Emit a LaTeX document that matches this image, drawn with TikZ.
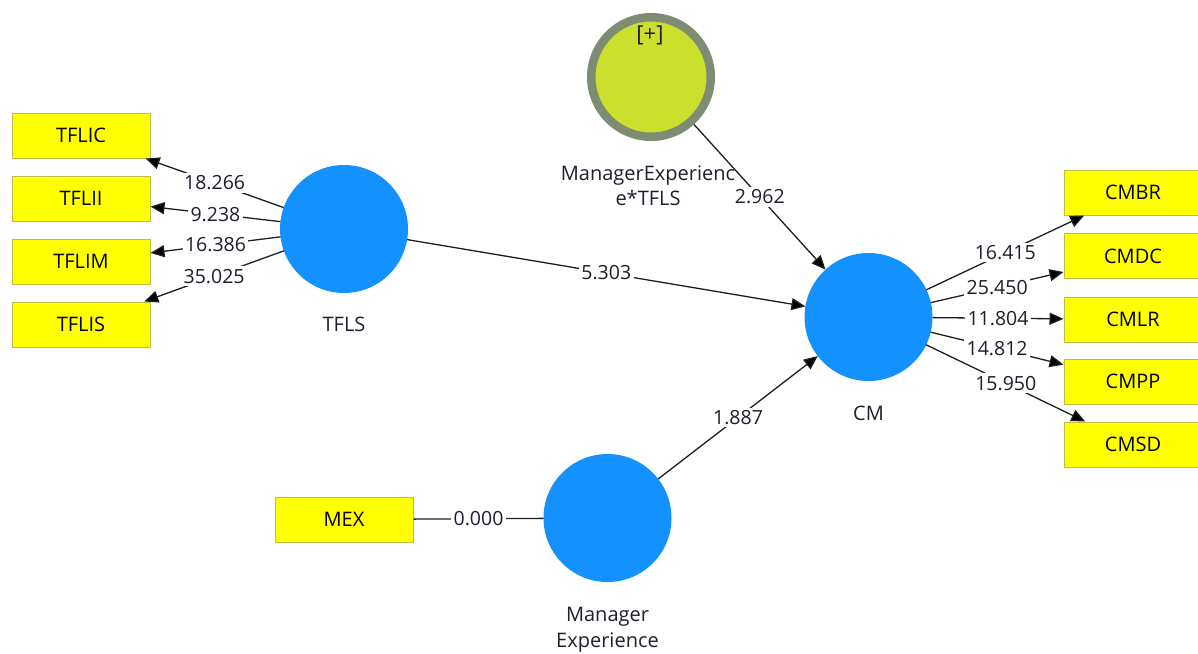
\documentclass[tikz,border=0pt]{standalone}
\usepackage{fontspec}
\setmainfont{Open Sans}
\usetikzlibrary{arrows.meta}
\definecolor{lvblue}{RGB}{19,145,255}
\definecolor{boxyellow}{RGB}{255,255,0}
\definecolor{boxborder}{RGB}{190,190,70}
\definecolor{modfill}{RGB}{202,224,44}
\definecolor{modring}{RGB}{127,140,116}
\definecolor{linegray}{RGB}{30,30,30}
\definecolor{textc}{RGB}{30,30,45}
\begin{document}
\begin{tikzpicture}[x=1pt,y=-1pt,
  ind/.style={draw=boxborder, line width=1pt, fill=boxyellow, minimum width=138pt, minimum height=45pt, inner sep=0pt, font=\fontsize{20}{24}\selectfont, text=black},
  lv/.style={circle, fill=lvblue, minimum size=128pt, inner sep=0pt, outer sep=0pt},
  modlv/.style={circle, fill=modfill, draw=modring, line width=8.5pt, minimum size=119.5pt, inner sep=0pt, outer sep=4.25pt},
  conn/.style={draw=linegray, line width=1.3pt},
  arr/.style={conn, -{Triangle[length=14pt,width=12pt,fill=black]}},
  val/.style={fill=white, inner sep=2.5pt, font=\fontsize{19.5}{22}\selectfont, text=textc},
  lbl/.style={font=\fontsize{20}{25.5}\selectfont, text=textc, align=center, inner sep=0pt},
  plusmark/.style={font=\fontsize{22}{24}\selectfont, text=textc, inner sep=0pt}
]
\useasboundingbox (0,0) rectangle (1198,653);

% indicators left
\node[ind] (TFLIC) at (81,135.5) {TFLIC};
\node[ind] (TFLII) at (81,198.5) {TFLII};
\node[ind] (TFLIM) at (81,261.5) {TFLIM};
\node[ind] (TFLIS) at (81,324.5) {TFLIS};

% indicators right
\node[ind] (CMBR) at (1133,192.5) {CMBR};
\node[ind] (CMDC) at (1133,256) {CMDC};
\node[ind] (CMLR) at (1133,319.5) {CMLR};
\node[ind] (CMPP) at (1133,381.5) {CMPP};
\node[ind] (CMSD) at (1133,444.5) {CMSD};

\node[ind] (MEX) at (344,519.5) {MEX};

% latent variables
\node[lv] (TFLS) at (344,229) {};
\node[lv] (CM) at (868.5,317) {};
\node[lv] (ME) at (607.5,518) {};
\node[modlv] (MOD) at (651,77) {};

\node[plusmark] (plus) at (650,35) {[+]};

% labels of latent variables
\node[lbl] (TFLSlab) at (344,324) {TFLS};
\node[lbl] (CMlab) at (868.5,413) {CM};
\node[lbl] (MElab) at (607.5,630) {Manager\\Experience};
\node[lbl] (MODlab) at (648,186) {ManagerExperienc\\e*TFLS};

% outer loadings TFLS
\draw[arr] (TFLS) -- node[val]{18.266} (TFLIC);
\draw[arr] (TFLS) -- node[val]{9.238} (TFLII);
\draw[arr] (TFLS) -- node[val]{16.386} (TFLIM);
\draw[arr] (TFLS) -- node[val]{35.025} (TFLIS);

% outer loadings CM
\draw[arr] (CM) -- node[val]{16.415} (CMBR);
\draw[arr] (CM) -- node[val]{25.450} (CMDC);
\draw[arr] (CM) -- node[val]{11.804} (CMLR);
\draw[arr] (CM) -- node[val]{14.812} (CMPP);
\draw[arr] (CM) -- node[val]{15.950} (CMSD);

% MEX
\draw[conn] (MEX) -- node[val]{0.000} (ME);

% structural paths
\draw[arr] (TFLS) -- node[val]{5.303} (CM);
\draw[arr] (MOD) -- node[val]{2.962} (CM);
\draw[arr] (ME) -- node[val]{1.887} (CM);
\end{tikzpicture}
\end{document}
